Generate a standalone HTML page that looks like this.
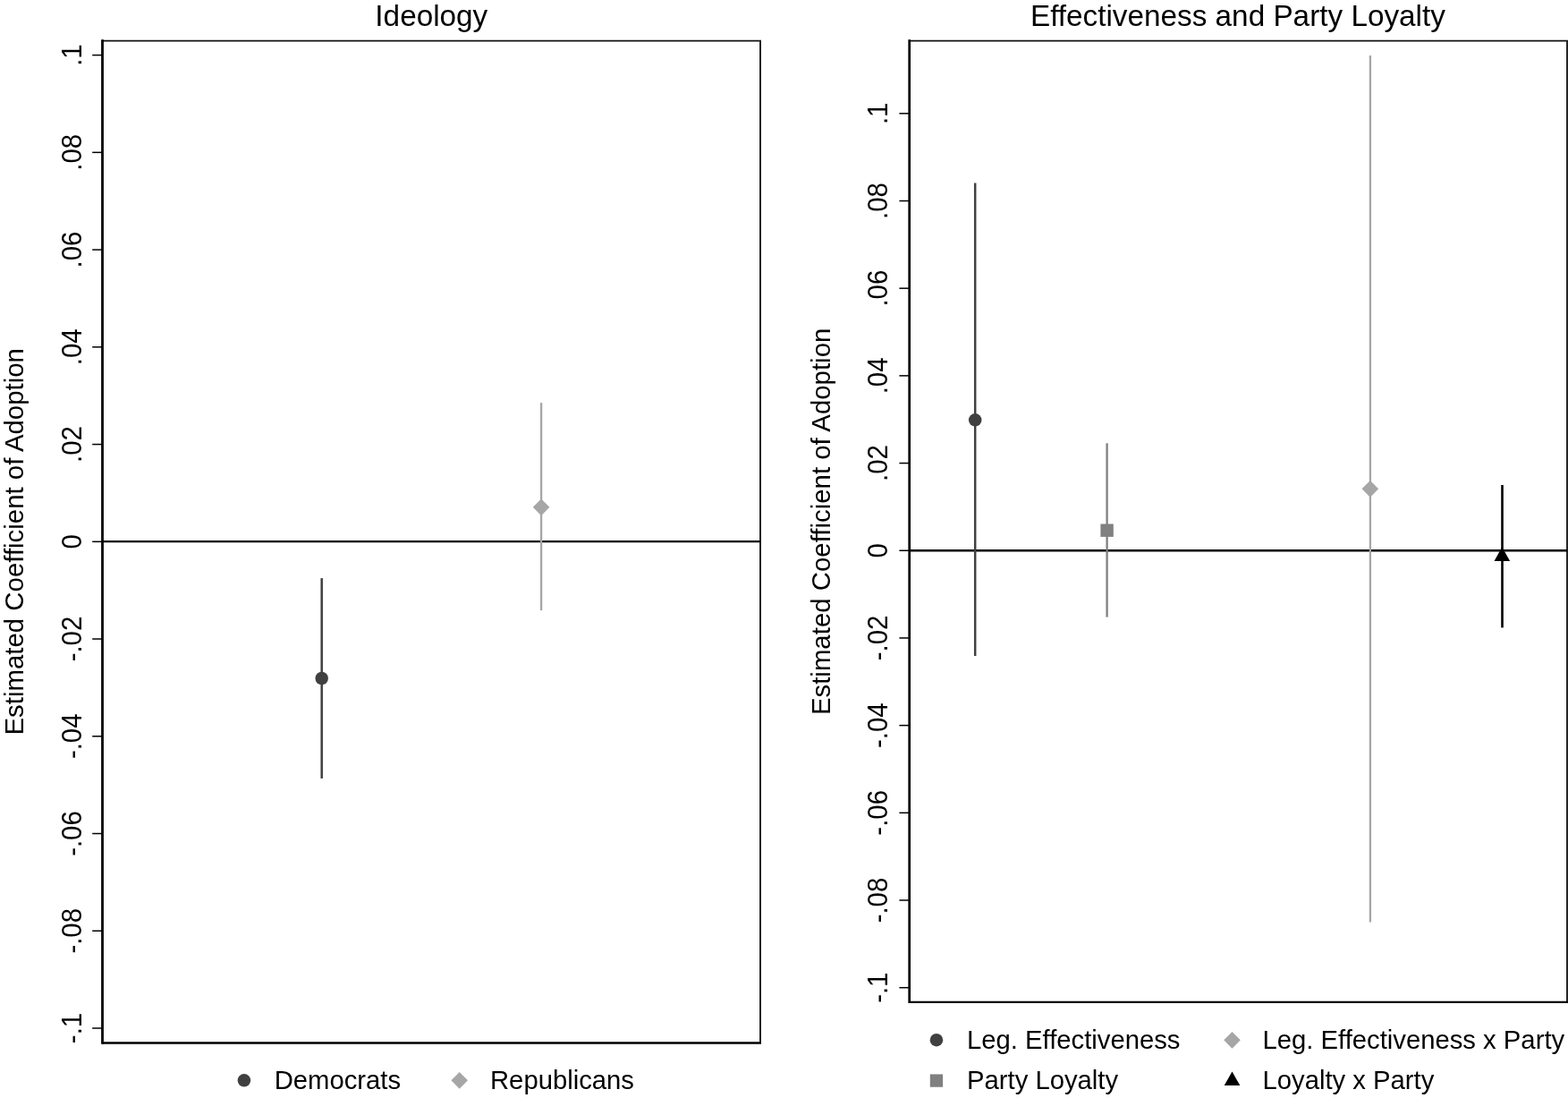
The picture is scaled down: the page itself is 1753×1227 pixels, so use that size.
<!DOCTYPE html>
<html lang="en"><head><meta charset="utf-8"><title>Estimated Coefficient of Adoption</title>
<style>
html,body{margin:0;padding:0;background:#fff;}
body{width:1753px;height:1227px;overflow:hidden;}
svg{display:block;}
text{font-family:"Liberation Sans", Arial, Helvetica, sans-serif;fill:#000;}
.lab{font-size:29.4px;}
.ttl{font-size:33.3px;}
.leg{font-size:29.25px;}
</style></head><body>
<svg width="1753" height="1227" viewBox="0 0 1753 1227">
<rect x="0" y="0" width="1753" height="1227" fill="#fff"/>
<g stroke="#000" fill="none">
<line x1="114.5" y1="45.55" x2="851.0" y2="45.55" stroke-width="1.7" stroke="#111"/>
<line x1="850.0" y1="45.55" x2="850.0" y2="1165.5" stroke-width="2.0" stroke="#262626"/>
<line x1="114.5" y1="1165.5" x2="851.0" y2="1165.5" stroke-width="2.5"/>
<line x1="114.5" y1="44.3" x2="114.5" y2="1166.75" stroke-width="2.8"/>
<line x1="103.2" y1="61.60" x2="114.5" y2="61.60" stroke-width="1.5"/>
<line x1="103.2" y1="170.34" x2="114.5" y2="170.34" stroke-width="1.5"/>
<line x1="103.2" y1="279.08" x2="114.5" y2="279.08" stroke-width="1.5"/>
<line x1="103.2" y1="387.82" x2="114.5" y2="387.82" stroke-width="1.5"/>
<line x1="103.2" y1="496.56" x2="114.5" y2="496.56" stroke-width="1.5"/>
<line x1="103.2" y1="605.30" x2="114.5" y2="605.30" stroke-width="1.5"/>
<line x1="103.2" y1="714.04" x2="114.5" y2="714.04" stroke-width="1.5"/>
<line x1="103.2" y1="822.78" x2="114.5" y2="822.78" stroke-width="1.5"/>
<line x1="103.2" y1="931.52" x2="114.5" y2="931.52" stroke-width="1.5"/>
<line x1="103.2" y1="1040.26" x2="114.5" y2="1040.26" stroke-width="1.5"/>
<line x1="103.2" y1="1149.00" x2="114.5" y2="1149.00" stroke-width="1.5"/>
</g>
<text class="lab" text-anchor="middle" transform="translate(90.5 61.60) rotate(-90) scale(1 1.05)">.1</text>
<text class="lab" text-anchor="middle" transform="translate(90.5 170.34) rotate(-90) scale(1 1.05)">.08</text>
<text class="lab" text-anchor="middle" transform="translate(90.5 279.08) rotate(-90) scale(1 1.05)">.06</text>
<text class="lab" text-anchor="middle" transform="translate(90.5 387.82) rotate(-90) scale(1 1.05)">.04</text>
<text class="lab" text-anchor="middle" transform="translate(90.5 496.56) rotate(-90) scale(1 1.05)">.02</text>
<text class="lab" text-anchor="middle" transform="translate(90.5 605.30) rotate(-90) scale(1 1.05)">0</text>
<text class="lab" text-anchor="middle" transform="translate(90.5 714.04) rotate(-90) scale(1 1.05)">-.02</text>
<text class="lab" text-anchor="middle" transform="translate(90.5 822.78) rotate(-90) scale(1 1.05)">-.04</text>
<text class="lab" text-anchor="middle" transform="translate(90.5 931.52) rotate(-90) scale(1 1.05)">-.06</text>
<text class="lab" text-anchor="middle" transform="translate(90.5 1040.26) rotate(-90) scale(1 1.05)">-.08</text>
<text class="lab" text-anchor="middle" transform="translate(90.5 1149.00) rotate(-90) scale(1 1.05)">-.1</text>
<text class="ttl" text-anchor="middle" transform="translate(482.3 28.9) scale(1 1.0)">Ideology</text>
<text class="lab" text-anchor="middle" transform="translate(26 605.3) rotate(-90) scale(1 1.0)">Estimated Coefficient of Adoption</text>
<line x1="114.5" y1="605.1" x2="850.1" y2="605.1" stroke="#000" stroke-width="2.4"/>
<line x1="359.7" y1="646.1" x2="359.7" y2="869.9" stroke="#404040" stroke-width="2.5"/>
<circle cx="359.7" cy="758" r="7.25" fill="#404040"/>
<line x1="605.1" y1="450.1" x2="605.1" y2="682.1" stroke="#a6a6a6" stroke-width="2.3"/>
<path d="M605.1 557.45L614.4 566.85L605.1 576.25L595.8000000000001 566.85Z" fill="#a6a6a6"/>
<circle cx="272.9" cy="1207.3" r="7.25" fill="#404040"/>
<text class="leg" transform="translate(306.7 1216.7) scale(1 1.0)">Democrats</text>
<path d="M513.7 1197.8999999999999L523.0 1207.3L513.7 1216.7L504.40000000000003 1207.3Z" fill="#a6a6a6"/>
<text class="leg" transform="translate(548 1216.7) scale(1 1.0)">Republicans</text>
<g stroke="#000" fill="none">
<line x1="1016.7" y1="45.55" x2="1753.0" y2="45.55" stroke-width="1.7" stroke="#111"/>
<line x1="1752.0" y1="45.55" x2="1752.0" y2="1119.9" stroke-width="2.0" stroke="#262626"/>
<line x1="1016.7" y1="1119.9" x2="1753.0" y2="1119.9" stroke-width="2.1"/>
<line x1="1016.7" y1="44.3" x2="1016.7" y2="1120.95" stroke-width="2.7"/>
<line x1="1005.4000000000001" y1="126.80" x2="1016.7" y2="126.80" stroke-width="1.5"/>
<line x1="1005.4000000000001" y1="224.49" x2="1016.7" y2="224.49" stroke-width="1.5"/>
<line x1="1005.4000000000001" y1="322.18" x2="1016.7" y2="322.18" stroke-width="1.5"/>
<line x1="1005.4000000000001" y1="419.87" x2="1016.7" y2="419.87" stroke-width="1.5"/>
<line x1="1005.4000000000001" y1="517.56" x2="1016.7" y2="517.56" stroke-width="1.5"/>
<line x1="1005.4000000000001" y1="615.25" x2="1016.7" y2="615.25" stroke-width="1.5"/>
<line x1="1005.4000000000001" y1="712.94" x2="1016.7" y2="712.94" stroke-width="1.5"/>
<line x1="1005.4000000000001" y1="810.63" x2="1016.7" y2="810.63" stroke-width="1.5"/>
<line x1="1005.4000000000001" y1="908.32" x2="1016.7" y2="908.32" stroke-width="1.5"/>
<line x1="1005.4000000000001" y1="1006.01" x2="1016.7" y2="1006.01" stroke-width="1.5"/>
<line x1="1005.4000000000001" y1="1103.70" x2="1016.7" y2="1103.70" stroke-width="1.5"/>
</g>
<text class="lab" text-anchor="middle" transform="translate(992.4 126.80) rotate(-90) scale(1 1.05)">.1</text>
<text class="lab" text-anchor="middle" transform="translate(992.4 224.49) rotate(-90) scale(1 1.05)">.08</text>
<text class="lab" text-anchor="middle" transform="translate(992.4 322.18) rotate(-90) scale(1 1.05)">.06</text>
<text class="lab" text-anchor="middle" transform="translate(992.4 419.87) rotate(-90) scale(1 1.05)">.04</text>
<text class="lab" text-anchor="middle" transform="translate(992.4 517.56) rotate(-90) scale(1 1.05)">.02</text>
<text class="lab" text-anchor="middle" transform="translate(992.4 615.25) rotate(-90) scale(1 1.05)">0</text>
<text class="lab" text-anchor="middle" transform="translate(992.4 712.94) rotate(-90) scale(1 1.05)">-.02</text>
<text class="lab" text-anchor="middle" transform="translate(992.4 810.63) rotate(-90) scale(1 1.05)">-.04</text>
<text class="lab" text-anchor="middle" transform="translate(992.4 908.32) rotate(-90) scale(1 1.05)">-.06</text>
<text class="lab" text-anchor="middle" transform="translate(992.4 1006.01) rotate(-90) scale(1 1.05)">-.08</text>
<text class="lab" text-anchor="middle" transform="translate(992.4 1103.70) rotate(-90) scale(1 1.05)">-.1</text>
<text class="ttl" text-anchor="middle" transform="translate(1383.9 28.9) scale(1 1.0)">Effectiveness and Party Loyalty</text>
<text class="lab" text-anchor="middle" transform="translate(928 582.9) rotate(-90) scale(1 1.0)">Estimated Coefficient of Adoption</text>
<line x1="1017" y1="615.2" x2="1752.3" y2="615.2" stroke="#000" stroke-width="2.4"/>
<line x1="1090.2" y1="204.6" x2="1090.2" y2="733.1" stroke="#404040" stroke-width="2.5"/>
<circle cx="1090.2" cy="469.3" r="7.25" fill="#404040"/>
<line x1="1237.6" y1="495.3" x2="1237.6" y2="689.6" stroke="#808080" stroke-width="2.3"/>
<rect x="1230.3999999999999" y="585.5" width="14.4" height="14.4" fill="#808080"/>
<line x1="1531.9" y1="61.9" x2="1531.9" y2="1030.4" stroke="#a6a6a6" stroke-width="2.3"/>
<path d="M1531.85 536.9L1541.1499999999999 546.3L1531.85 555.6999999999999L1522.55 546.3Z" fill="#a6a6a6"/>
<line x1="1679.5" y1="542" x2="1679.5" y2="701.4" stroke="#000" stroke-width="2.6"/>
<path d="M1679.3 611.2L1688.1 626.9L1670.5 626.9Z" fill="#000"/>
<circle cx="1046.95" cy="1162.2" r="7.25" fill="#404040"/>
<text class="leg" transform="translate(1081 1171.5) scale(1 1.0)">Leg. Effectiveness</text>
<rect x="1039.8" y="1200.4499999999998" width="14.3" height="14.3" fill="#808080"/>
<text class="leg" transform="translate(1081 1216.8) scale(1 1.0)">Party Loyalty</text>
<path d="M1377.5 1152.8999999999999L1386.8 1162.3L1377.5 1171.7L1368.2 1162.3Z" fill="#a6a6a6"/>
<text class="leg" transform="translate(1411.5 1171.5) scale(1 1.0)">Leg. Effectiveness x Party</text>
<path d="M1377.5 1197.4L1386.3 1212.9L1368.7 1212.9Z" fill="#000"/>
<text class="leg" transform="translate(1411.5 1216.8) scale(1 1.0)">Loyalty x Party</text>
</svg></body></html>
